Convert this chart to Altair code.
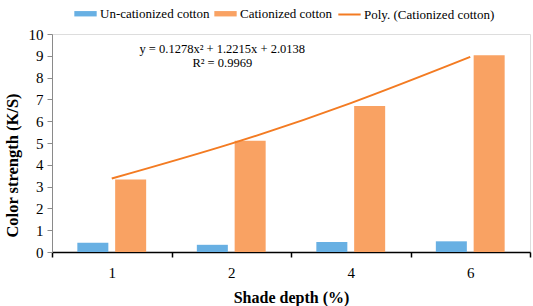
import altair as alt
import pandas as pd

cats = ["1", "2", "4", "6"]
un_cat = [0.43, 0.33, 0.46, 0.49]
cat = [3.33, 5.10, 6.70, 9.02]
trend = [3.37, 4.97, 6.83, 8.95]
bar_series = ["Un-cationized cotton", "Cationized cotton"]
line_series = ["Poly. (Cationized cotton)"]
bar_colors = ["#68B0E3", "#F9A263"]
line_colors = ["#F37B22"]
eq_lines = ["y = 0.1278x\u00b2  + 1.2215x  + 2.0138", "R\u00b2 = 0.9969"]
eq_y = [9.31, 8.67]
y_ticks = [0, 1, 2, 3, 4, 5, 6, 7, 8, 9, 10]

FONT = "Liberation Serif"

bars = pd.DataFrame({
    "depth": cats * 2,
    "series": [bar_series[0]] * 4 + [bar_series[1]] * 4,
    "ks": un_cat + cat,
})
line_df = pd.DataFrame({"depth": cats, "series": line_series * 4, "ks": trend})
eq_df = pd.DataFrame({"depth": ["2", "2"], "ks": eq_y, "text": eq_lines})

xscale = alt.Scale(domain=cats, paddingInner=0, paddingOuter=0)
yscale = alt.Scale(domain=[0, 10], nice=False)

bar_legend = alt.Legend(
    orient="none", legendX=22, legendY=-32, direction="horizontal", title=None,
    labelFont=FONT, labelFontSize=13, labelColor="black", symbolSize=500,
    symbolType="M-1,-0.24H1V0.24H-1Z", symbolStrokeWidth=0,
    columnPadding=4, labelOffset=3, padding=0,
)
line_legend = alt.Legend(
    orient="none", legendX=285, legendY=-32, direction="horizontal", title=None,
    labelFont=FONT, labelFontSize=13, labelColor="black", symbolSize=500,
    symbolType="stroke", symbolStrokeWidth=2,
    labelOffset=2, padding=0,
)

xaxis = alt.Axis(
    title="Shade depth (%)", titleFont=FONT, titleFontSize=16, titleFontWeight="bold",
    titleColor="black", titlePadding=9, labelFont=FONT, labelFontSize=15,
    labelColor="black", labelAngle=0, labelPadding=8, tickBand="extent",
    tickSize=5, tickColor="black", tickWidth=1.5, domainColor="black",
    domainWidth=1.5, grid=False,
)
yaxis = alt.Axis(
    title="Color strength (K/S)", titleFont=FONT, titleFontSize=16.5,
    titleFontWeight="bold", titleColor="black", titlePadding=8, titleY=131,
    labelFont=FONT, labelFontSize=15, labelColor="black", labelPadding=4,
    values=y_ticks, labelOverlap=False, labelFlush=False,
    tickSize=5, tickColor="#8a8a8a", domainColor="#8a8a8a", grid=False,
)

X = alt.X("depth:N", scale=xscale, axis=xaxis, sort=cats)
Y = alt.Y("ks:Q", scale=yscale, axis=yaxis)

bar_layer = alt.Chart(bars).mark_bar(opacity=1).encode(
    x=X,
    xOffset=alt.XOffset("series:N", sort=bar_series,
                        scale=alt.Scale(paddingInner=0.18, paddingOuter=0.67)),
    y=Y,
    color=alt.Color("series:N", scale=alt.Scale(domain=bar_series, range=bar_colors),
                    legend=bar_legend),
)

line_layer = alt.Chart(line_df).mark_line(strokeWidth=2, interpolate="natural").encode(
    x=X,
    y=Y,
    stroke=alt.Stroke("series:N", scale=alt.Scale(domain=line_series, range=line_colors),
                      legend=line_legend),
)

eq_layer = alt.Chart(eq_df).mark_text(font=FONT, fontSize=12.5, color="black", dx=-9).encode(
    x=X,
    y=Y,
    text="text:N",
)

chart = alt.layer(bar_layer, line_layer, eq_layer).resolve_scale(
    color="independent"
).properties(
    width=478, height=218,
    padding={"left": 52, "top": 34, "right": 3, "bottom": 54},
    autosize=alt.AutoSizeParams(type="none"),
).configure_view(stroke=None).configure(background="white")

chart.save("out.html", embed_options={"renderer": "svg", "actions": False})
